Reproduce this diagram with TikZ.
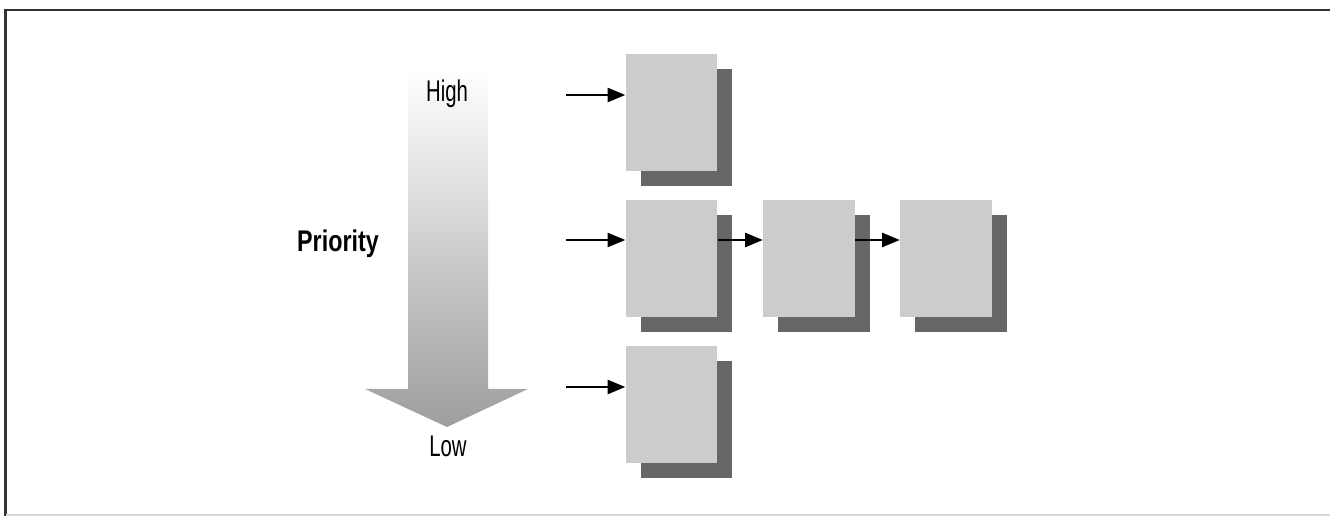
\documentclass[tikz,border=0pt]{standalone}
\usepackage{fontspec}
\setmainfont{Liberation Sans}[FakeStretch=0.68]
\newfontfamily\prioschrift{Liberation Sans}[FakeStretch=0.78]
\usetikzlibrary{arrows.meta,shadows}
\tikzset{
  kasten/.style={fill=black!20, minimum width=0.91cm, minimum height=1.17cm, inner sep=0pt,
    drop shadow={shadow xshift=0.15cm, shadow yshift=-0.15cm, fill=black!60, opacity=1}},
  zeiger/.style={-{Triangle[length=5pt,width=4pt]}, line width=0.6pt},
  etikett/.style={font=\fontsize{8.5}{10}\selectfont, inner sep=0pt, anchor=base}
}
\begin{document}
\begin{tikzpicture}[x=0.01cm,y=-0.01cm]
    \useasboundingbox (0,0) rectangle (1330,516);
    % Rahmen:
    \draw[line width=0.8pt, black!80] (5.5,516) -- (5.5,10) -- (1330,10);
    \draw[black!15] (5.5,515) -- (1330,515);
    % Prioritaetspfeil:
    \shade[top color=white, bottom color=black!38] (408,68) -- (488,68) -- (488,389) -- (528,389)
        -- (447,427) -- (365,389) -- (408,389) -- cycle;
    \node[etikett] (high) at (447,102) {High};
    \node[etikett] (low) at (448,457) {Low};
    \node[etikett, font=\fontsize{8.5}{10}\selectfont\prioschrift\bfseries] (prio) at (338,252) {Priority};
    % Warteschlangen:
    \node[kasten] (q1) at (671.5,112.5) {}; % oben
    \node[kasten] (q2) at (671.5,258.5) {}; % Mitte
    \node[kasten] (q3) at (809,258.5) {};
    \node[kasten] (q4) at (946,258.5) {};
    \node[kasten] (q5) at (671.5,404.5) {}; % unten
    % Pfeile:
    \coordinate (e1) at (566,95);
    \coordinate (e2) at (566,240);
    \coordinate (e3) at (566,387);
    \draw[zeiger] (e1) -- (e1 -| q1.west);
    \draw[zeiger] (e2) -- (e2 -| q2.west);
    \draw[zeiger] (e3) -- (e3 -| q5.west);
    \draw[zeiger] (q2.east |- e2) -- (e2 -| q3.west);
    \draw[zeiger] (q3.east |- e2) -- (e2 -| q4.west);
\end{tikzpicture}
\end{document}
